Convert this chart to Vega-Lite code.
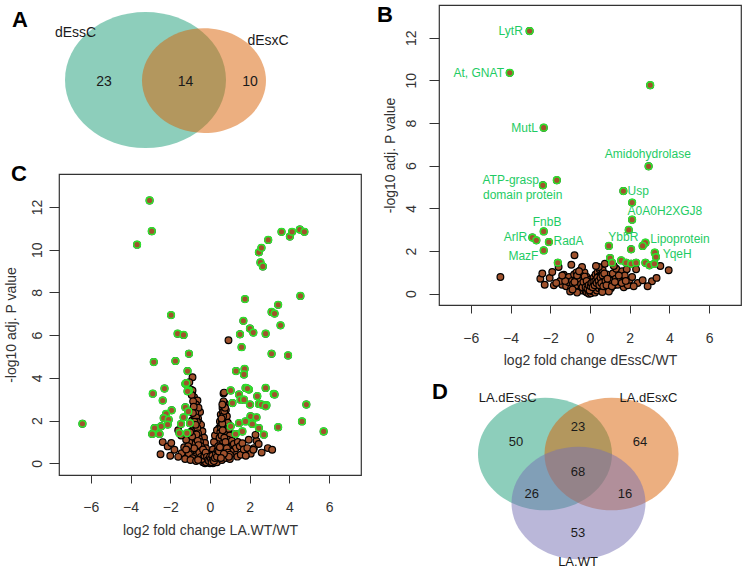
{
 "$schema": "https://vega.github.io/schema/vega-lite/v6.json",
 "background": "white",
 "padding": {"left": 3, "top": 3, "right": 0, "bottom": 0},
 "spacing": 14,
 "config": {"font": "Liberation Sans", "view": {"stroke": null}},
 "datasets": {
  "vennA": [{"set":"dEssC","x":2.883,"y":3.25},{"set":"dEsxC","x":4.833,"y":3.22}],
  "vennAtext": [{"label":"dEssC","x":0.55,"y":5.6},{"label":"dEsxC","x":6.967,"y":5.2},{"label":"23","x":1.5,"y":3.15},{"label":"14","x":4.217,"y":3.15},{"label":"10","x":6.367,"y":3.15}],
  "vennD": [{"set":"LA.dEssC","x":3.533,"y":6.216},{"set":"LA.dEsxC","x":5.75,"y":6.216},{"set":"LA.WT","x":4.65,"y":3.568}],
  "vennDtext": [{"label":"LA.dEssC","x":2.29,"y":9.24},{"label":"LA.dEsxC","x":6.983,"y":9.24},{"label":"LA.WT","x":4.633,"y":0.4},{"label":"50","x":2.567,"y":6.86},{"label":"23","x":4.633,"y":7.68},{"label":"64","x":6.7,"y":6.86},{"label":"68","x":4.633,"y":5.22},{"label":"26","x":3.09,"y":4.05},{"label":"16","x":6.2,"y":4.05},{"label":"53","x":4.633,"y":1.92}],
  "labB": [{"gene":"LytR","fc":-3.99,"p":12.31},{"gene":"At, GNAT","fc":-5.6,"p":10.35},{"gene":"MutL","fc":-3.29,"p":7.78},{"gene":"Amidohydrolase","fc":2.91,"p":6.56},{"gene":"ATP-grasp","fc":-3.99,"p":5.33},{"gene":"domain protein","fc":-3.39,"p":4.63},{"gene":"Usp","fc":2.43,"p":4.81},{"gene":"A0A0H2XGJ8","fc":3.77,"p":3.86},{"gene":"FnbB","fc":-2.16,"p":3.36},{"gene":"ArlR","fc":-3.75,"p":2.66},{"gene":"RadA","fc":-1.08,"p":2.46},{"gene":"MazF","fc":-3.35,"p":1.77},{"gene":"YbbR","fc":1.68,"p":2.66},{"gene":"Lipoprotein","fc":4.53,"p":2.58},{"gene":"YqeH","fc":4.39,"p":1.88}],
  "volB": [
   {"fc":-4.51,"p":0.78,"sig":0},{"fc":-2.5,"p":0.7,"sig":0},{"fc":-2.28,"p":0.42,"sig":0},{"fc":-2.03,"p":0.74,"sig":0},{"fc":-1.82,"p":0.39,"sig":0},{"fc":-1.9,"p":1.02,"sig":0},{"fc":-1.58,"p":1.25,"sig":0},{"fc":-1.4,"p":0.42,"sig":0},{"fc":-1.32,"p":0.89,"sig":0},{"fc":-1.06,"p":0.78,"sig":0},{"fc":-0.94,"p":1.36,"sig":0},{"fc":-0.78,"p":1.8,"sig":0},{"fc":-1.2,"p":0.35,"sig":0},{"fc":-1.1,"p":0.55,"sig":0},{"fc":-0.95,"p":0.25,"sig":0},{"fc":-0.9,"p":0.6,"sig":0},{"fc":-0.85,"p":0.45,"sig":0},{"fc":-0.8,"p":0.9,"sig":0},{"fc":-0.75,"p":0.3,"sig":0},{"fc":-0.7,"p":0.65,"sig":0},{"fc":-0.68,"p":1.0,"sig":0},{"fc":-0.62,"p":0.2,"sig":0},{"fc":-0.6,"p":0.5,"sig":0},{"fc":-0.55,"p":0.8,"sig":0},{"fc":-0.5,"p":0.35,"sig":0},{"fc":-0.48,"p":1.1,"sig":0},{"fc":-0.45,"p":0.6,"sig":0},{"fc":-0.4,"p":0.15,"sig":0},{"fc":-0.4,"p":0.9,"sig":0},{"fc":-0.35,"p":0.45,"sig":0},{"fc":-0.32,"p":0.7,"sig":0},{"fc":-0.3,"p":0.25,"sig":0},{"fc":-0.28,"p":1.0,"sig":0},{"fc":-0.25,"p":0.55,"sig":0},{"fc":-0.22,"p":0.1,"sig":0},{"fc":-0.2,"p":0.35,"sig":0},{"fc":-0.18,"p":0.8,"sig":0},{"fc":-0.15,"p":0.05,"sig":0},{"fc":-0.12,"p":0.5,"sig":0},{"fc":-0.1,"p":0.2,"sig":0},{"fc":-0.08,"p":0.65,"sig":0},{"fc":-0.05,"p":0.0,"sig":0},{"fc":-0.03,"p":0.3,"sig":0},{"fc":0.0,"p":0.1,"sig":0},{"fc":0.02,"p":0.45,"sig":0},{"fc":0.05,"p":0.02,"sig":0},{"fc":0.08,"p":0.25,"sig":0},{"fc":0.1,"p":0.6,"sig":0},{"fc":0.12,"p":0.12,"sig":0},{"fc":0.15,"p":0.4,"sig":0},{"fc":0.18,"p":0.75,"sig":0},{"fc":0.2,"p":0.2,"sig":0},{"fc":0.22,"p":0.55,"sig":0},{"fc":0.25,"p":0.05,"sig":0},{"fc":0.28,"p":0.9,"sig":0},{"fc":0.3,"p":0.35,"sig":0},{"fc":0.32,"p":0.65,"sig":0},{"fc":0.35,"p":0.15,"sig":0},{"fc":0.38,"p":1.0,"sig":0},{"fc":0.4,"p":0.5,"sig":0},{"fc":0.42,"p":0.8,"sig":0},{"fc":0.45,"p":0.25,"sig":0},{"fc":0.48,"p":1.15,"sig":0},{"fc":0.5,"p":0.6,"sig":0},{"fc":0.55,"p":0.4,"sig":0},{"fc":0.58,"p":0.9,"sig":0},{"fc":0.6,"p":0.2,"sig":0},{"fc":0.64,"p":1.1,"sig":0},{"fc":0.65,"p":0.55,"sig":0},{"fc":0.7,"p":0.75,"sig":0},{"fc":0.73,"p":0.7,"sig":0},{"fc":0.75,"p":0.3,"sig":0},{"fc":0.8,"p":0.5,"sig":0},{"fc":0.85,"p":0.9,"sig":0},{"fc":0.9,"p":0.35,"sig":0},{"fc":0.98,"p":0.47,"sig":0},{"fc":1.0,"p":0.7,"sig":0},{"fc":1.05,"p":0.25,"sig":0},{"fc":1.1,"p":0.6,"sig":0},{"fc":1.15,"p":0.95,"sig":0},{"fc":1.2,"p":0.4,"sig":0},{"fc":1.3,"p":0.7,"sig":0},{"fc":1.32,"p":1.17,"sig":0},{"fc":1.4,"p":0.42,"sig":0},{"fc":1.5,"p":0.6,"sig":0},{"fc":1.62,"p":1.05,"sig":0},{"fc":1.7,"p":0.3,"sig":0},{"fc":1.85,"p":1.14,"sig":0},{"fc":1.9,"p":0.39,"sig":0},{"fc":2.0,"p":0.65,"sig":0},{"fc":2.12,"p":0.78,"sig":0},{"fc":2.32,"p":1.14,"sig":0},{"fc":2.4,"p":0.5,"sig":0},{"fc":2.65,"p":0.63,"sig":0},{"fc":3.12,"p":0.58,"sig":0},{"fc":3.35,"p":0.74,"sig":0},{"fc":3.54,"p":1.3,"sig":0},{"fc":3.96,"p":1.1,"sig":0},{"fc":0.44,"p":1.25,"sig":0},{"fc":-1.5,"p":0.6,"sig":0},{"fc":-1.7,"p":0.5,"sig":0},{"fc":-2.4,"p":0.95,"sig":0},{"fc":1.75,"p":0.85,"sig":0},{"fc":2.2,"p":0.35,"sig":0},{"fc":-0.65,"p":0.05,"sig":0},{"fc":0.62,"p":0.08,"sig":0},{"fc":-1.0,"p":0.1,"sig":0},{"fc":0.95,"p":0.1,"sig":0},{"fc":2.9,"p":0.35,"sig":0},{"fc":-0.4,"p":1.25,"sig":0},{"fc":0.3,"p":1.3,"sig":0},{"fc":0.75,"p":1.4,"sig":0},{"fc":1.2,"p":1.3,"sig":0},
   {"fc":-0.7,"p":0.4,"sig":0},{"fc":-0.6,"p":0.7,"sig":0},{"fc":-0.5,"p":0.9,"sig":0},{"fc":-0.45,"p":0.45,"sig":0},{"fc":-0.38,"p":0.3,"sig":0},{"fc":-0.33,"p":0.55,"sig":0},{"fc":-0.27,"p":0.8,"sig":0},{"fc":-0.22,"p":0.3,"sig":0},{"fc":-0.17,"p":0.6,"sig":0},{"fc":-0.13,"p":0.25,"sig":0},{"fc":-0.07,"p":0.4,"sig":0},{"fc":-0.02,"p":0.15,"sig":0},{"fc":0.03,"p":0.35,"sig":0},{"fc":0.07,"p":0.5,"sig":0},{"fc":0.13,"p":0.3,"sig":0},{"fc":0.17,"p":0.55,"sig":0},{"fc":0.23,"p":0.4,"sig":0},{"fc":0.27,"p":0.6,"sig":0},{"fc":0.33,"p":0.5,"sig":0},{"fc":0.37,"p":0.75,"sig":0},{"fc":0.43,"p":0.6,"sig":0},{"fc":0.47,"p":0.4,"sig":0},{"fc":0.53,"p":0.75,"sig":0},{"fc":0.57,"p":0.5,"sig":0},{"fc":0.63,"p":0.85,"sig":0},{"fc":0.67,"p":0.35,"sig":0},{"fc":0.72,"p":0.95,"sig":0},{"fc":0.78,"p":0.6,"sig":0},{"fc":0.83,"p":0.4,"sig":0},{"fc":0.88,"p":0.7,"sig":0},{"fc":-0.88,"p":0.2,"sig":0},{"fc":-0.78,"p":0.55,"sig":0},{"fc":-0.65,"p":0.85,"sig":0},{"fc":-0.55,"p":1.05,"sig":0},{"fc":1.1,"p":0.35,"sig":0},{"fc":1.25,"p":0.55,"sig":0},{"fc":1.45,"p":0.85,"sig":0},{"fc":1.6,"p":0.5,"sig":0},{"fc":1.8,"p":0.6,"sig":0},{"fc":-1.25,"p":0.6,"sig":0},{"fc":-1.4,"p":0.85,"sig":0},
   {"fc":-3.04,"p":12.31,"sig":1},{"fc":-4.04,"p":10.35,"sig":1},{"fc":3.03,"p":9.77,"sig":1},{"fc":-2.33,"p":7.78,"sig":1},{"fc":2.95,"p":5.97,"sig":1},{"fc":-2.37,"p":5.08,"sig":1},{"fc":-1.67,"p":5.32,"sig":1},{"fc":1.68,"p":4.81,"sig":1},{"fc":2.12,"p":4.27,"sig":1},{"fc":2.12,"p":3.47,"sig":1},{"fc":1.95,"p":2.99,"sig":1},{"fc":-2.33,"p":2.92,"sig":1},{"fc":-2.9,"p":2.63,"sig":1},{"fc":-2.7,"p":2.5,"sig":1},{"fc":-2.07,"p":2.42,"sig":1},{"fc":-2.33,"p":2.03,"sig":1},{"fc":0.95,"p":2.24,"sig":1},{"fc":2.07,"p":2.08,"sig":1},{"fc":2.79,"p":2.39,"sig":1},{"fc":2.65,"p":2.24,"sig":1},{"fc":3.26,"p":1.92,"sig":1},{"fc":3.32,"p":1.72,"sig":1},{"fc":1.01,"p":1.67,"sig":1},{"fc":1.11,"p":1.45,"sig":1},{"fc":1.57,"p":1.56,"sig":1},{"fc":1.82,"p":1.45,"sig":1},{"fc":2.07,"p":1.4,"sig":1},{"fc":2.32,"p":1.45,"sig":1},{"fc":2.79,"p":1.45,"sig":1},{"fc":2.99,"p":1.33,"sig":1},{"fc":3.24,"p":1.4,"sig":1},{"fc":-1.62,"p":1.45,"sig":1}
  ],
  "volC": [
   {"fc":-0.96,"p":3.45,"sig":0},{"fc":-0.9,"p":3.3,"sig":0},{"fc":-0.88,"p":4.03,"sig":0},{"fc":-1.04,"p":3.8,"sig":0},{"fc":-0.88,"p":3.41,"sig":0},{"fc":-0.8,"p":3.1,"sig":0},{"fc":-0.63,"p":2.94,"sig":0},{"fc":-0.71,"p":2.75,"sig":0},{"fc":-0.76,"p":2.43,"sig":0},{"fc":-0.7,"p":2.6,"sig":0},{"fc":-0.65,"p":2.3,"sig":0},{"fc":-0.6,"p":2.1,"sig":0},{"fc":-0.68,"p":2.0,"sig":0},{"fc":-0.55,"p":1.9,"sig":0},{"fc":-0.62,"p":1.75,"sig":0},{"fc":-0.5,"p":1.6,"sig":0},{"fc":-0.58,"p":1.45,"sig":0},{"fc":-0.45,"p":1.35,"sig":0},{"fc":-0.52,"p":1.2,"sig":0},{"fc":-0.4,"p":1.1,"sig":0},{"fc":-0.47,"p":0.95,"sig":0},{"fc":-0.35,"p":0.85,"sig":0},{"fc":-0.42,"p":0.7,"sig":0},{"fc":-0.3,"p":0.6,"sig":0},{"fc":-0.36,"p":0.45,"sig":0},{"fc":-0.25,"p":0.4,"sig":0},{"fc":-0.3,"p":0.25,"sig":0},{"fc":-0.2,"p":0.2,"sig":0},{"fc":-0.15,"p":0.1,"sig":0},{"fc":-0.1,"p":0.05,"sig":0},{"fc":-0.72,"p":1.55,"sig":0},{"fc":-0.8,"p":1.3,"sig":0},{"fc":-0.85,"p":1.05,"sig":0},{"fc":-0.95,"p":0.85,"sig":0},{"fc":-0.75,"p":0.9,"sig":0},{"fc":-0.62,"p":0.6,"sig":0},{"fc":-0.7,"p":0.4,"sig":0},{"fc":-0.55,"p":0.3,"sig":0},{"fc":-0.48,"p":0.15,"sig":0},{"fc":-0.88,"p":0.6,"sig":0},{"fc":-1.0,"p":0.55,"sig":0},{"fc":-1.15,"p":0.45,"sig":0},{"fc":-0.83,"p":1.7,"sig":0},{"fc":-0.9,"p":2.0,"sig":0},{"fc":-0.78,"p":2.2,"sig":0},{"fc":-0.5,"p":2.4,"sig":0},{"fc":-0.58,"p":2.6,"sig":0},{"fc":-0.45,"p":1.8,"sig":0},{"fc":-0.38,"p":1.5,"sig":0},{"fc":-0.3,"p":1.2,"sig":0},{"fc":-0.25,"p":0.95,"sig":0},{"fc":-0.2,"p":0.7,"sig":0},{"fc":-0.12,"p":0.45,"sig":0},{"fc":-0.05,"p":0.25,"sig":0},{"fc":-0.65,"p":1.2,"sig":0},{"fc":-0.98,"p":1.2,"sig":0},{"fc":-1.05,"p":1.0,"sig":0},{"fc":-0.9,"p":1.5,"sig":0},
   {"fc":0.68,"p":3.27,"sig":0},{"fc":0.71,"p":3.31,"sig":0},{"fc":0.71,"p":2.62,"sig":0},{"fc":0.63,"p":2.59,"sig":0},{"fc":0.54,"p":2.28,"sig":0},{"fc":0.5,"p":1.96,"sig":0},{"fc":0.46,"p":1.65,"sig":0},{"fc":0.6,"p":2.0,"sig":0},{"fc":0.65,"p":2.4,"sig":0},{"fc":0.75,"p":2.8,"sig":0},{"fc":0.8,"p":2.5,"sig":0},{"fc":0.7,"p":2.1,"sig":0},{"fc":0.42,"p":1.4,"sig":0},{"fc":0.38,"p":1.15,"sig":0},{"fc":0.55,"p":1.75,"sig":0},{"fc":0.6,"p":1.5,"sig":0},{"fc":0.7,"p":1.6,"sig":0},{"fc":0.78,"p":1.85,"sig":0},{"fc":0.85,"p":2.2,"sig":0},{"fc":0.9,"p":1.9,"sig":0},{"fc":0.33,"p":0.9,"sig":0},{"fc":0.28,"p":0.7,"sig":0},{"fc":0.22,"p":0.5,"sig":0},{"fc":0.18,"p":0.3,"sig":0},{"fc":0.1,"p":0.15,"sig":0},{"fc":0.05,"p":0.05,"sig":0},{"fc":0.0,"p":0.0,"sig":0},{"fc":0.45,"p":1.0,"sig":0},{"fc":0.55,"p":1.2,"sig":0},{"fc":0.65,"p":1.05,"sig":0},{"fc":0.75,"p":1.3,"sig":0},{"fc":0.85,"p":1.45,"sig":0},{"fc":0.95,"p":1.6,"sig":0},{"fc":1.0,"p":1.3,"sig":0},{"fc":0.9,"p":1.1,"sig":0},{"fc":0.8,"p":0.85,"sig":0},{"fc":0.7,"p":0.75,"sig":0},{"fc":0.6,"p":0.6,"sig":0},{"fc":0.5,"p":0.45,"sig":0},{"fc":0.4,"p":0.35,"sig":0},{"fc":0.3,"p":0.2,"sig":0},{"fc":0.95,"p":0.9,"sig":0},{"fc":1.05,"p":0.75,"sig":0},{"fc":1.1,"p":1.05,"sig":0},{"fc":1.15,"p":0.6,"sig":0},{"fc":1.2,"p":0.9,"sig":0},{"fc":1.25,"p":0.45,"sig":0},{"fc":1.3,"p":0.7,"sig":0},{"fc":1.38,"p":0.31,"sig":0},{"fc":1.04,"p":0.55,"sig":0},{"fc":1.4,"p":1.0,"sig":0},{"fc":1.5,"p":0.8,"sig":0},{"fc":1.55,"p":0.4,"sig":0},{"fc":1.63,"p":0.94,"sig":0},{"fc":1.7,"p":0.65,"sig":0},{"fc":1.88,"p":0.71,"sig":0},{"fc":1.95,"p":1.1,"sig":0},{"fc":2.05,"p":0.45,"sig":0},{"fc":2.21,"p":0.71,"sig":0},{"fc":2.34,"p":1.05,"sig":0},{"fc":2.29,"p":1.33,"sig":0},{"fc":2.45,"p":0.9,"sig":0},{"fc":2.6,"p":0.5,"sig":0},{"fc":2.91,"p":0.71,"sig":0},{"fc":3.13,"p":0.63,"sig":0},{"fc":2.18,"p":0.63,"sig":0},{"fc":1.8,"p":0.35,"sig":0},{"fc":0.93,"p":5.76,"sig":0},{"fc":0.2,"p":1.0,"sig":0},{"fc":0.15,"p":0.65,"sig":0},{"fc":0.25,"p":1.3,"sig":0},{"fc":0.35,"p":1.55,"sig":0},{"fc":0.1,"p":0.4,"sig":0},
   {"fc":-2.38,"p":0.99,"sig":0},{"fc":-2.13,"p":0.79,"sig":0},{"fc":-2.49,"p":0.42,"sig":0},{"fc":-1.79,"p":0.63,"sig":0},{"fc":-1.43,"p":0.47,"sig":0},{"fc":-1.06,"p":0.42,"sig":0},{"fc":-0.88,"p":0.24,"sig":0},{"fc":-1.6,"p":0.3,"sig":0},{"fc":-1.25,"p":0.2,"sig":0},{"fc":-2.0,"p":0.35,"sig":0},{"fc":-1.95,"p":0.95,"sig":0},{"fc":-1.3,"p":0.75,"sig":0},{"fc":-1.2,"p":1.1,"sig":0},{"fc":-1.45,"p":1.3,"sig":0},{"fc":-1.6,"p":1.55,"sig":0},{"fc":-0.98,"p":0.15,"sig":0},{"fc":-0.7,"p":0.1,"sig":0},{"fc":-0.35,"p":0.05,"sig":0},{"fc":-0.25,"p":0.0,"sig":0},{"fc":0.15,"p":0.0,"sig":0},{"fc":0.35,"p":0.05,"sig":0},{"fc":0.6,"p":0.15,"sig":0},{"fc":0.8,"p":0.25,"sig":0},{"fc":1.0,"p":0.2,"sig":0},
   {"fc":-0.92,"p":3.2,"sig":0},{"fc":-0.85,"p":2.9,"sig":0},{"fc":-0.82,"p":2.65,"sig":0},{"fc":-0.74,"p":2.35,"sig":0},{"fc":-0.7,"p":2.15,"sig":0},{"fc":-0.66,"p":1.95,"sig":0},{"fc":-0.64,"p":1.65,"sig":0},{"fc":-0.6,"p":1.4,"sig":0},{"fc":-0.56,"p":1.15,"sig":0},{"fc":-0.5,"p":1.0,"sig":0},{"fc":-0.46,"p":0.8,"sig":0},{"fc":-0.42,"p":0.55,"sig":0},{"fc":-0.38,"p":0.35,"sig":0},{"fc":-0.3,"p":0.15,"sig":0},{"fc":-0.2,"p":0.05,"sig":0},{"fc":-0.78,"p":1.95,"sig":0},{"fc":-0.86,"p":2.35,"sig":0},{"fc":-0.72,"p":1.8,"sig":0},{"fc":-0.68,"p":1.35,"sig":0},{"fc":-0.62,"p":1.05,"sig":0},{"fc":-0.58,"p":0.85,"sig":0},{"fc":-0.54,"p":0.5,"sig":0},{"fc":-0.45,"p":0.3,"sig":0},{"fc":-0.4,"p":0.2,"sig":0},{"fc":-0.35,"p":0.65,"sig":0},{"fc":-0.28,"p":0.35,"sig":0},{"fc":-0.22,"p":0.5,"sig":0},{"fc":-0.15,"p":0.3,"sig":0},{"fc":-0.1,"p":0.15,"sig":0},{"fc":-0.05,"p":0.1,"sig":0},{"fc":0.0,"p":0.3,"sig":0},{"fc":0.05,"p":0.2,"sig":0},{"fc":0.08,"p":0.05,"sig":0},{"fc":0.12,"p":0.35,"sig":0},{"fc":0.16,"p":0.15,"sig":0},{"fc":0.2,"p":0.1,"sig":0},{"fc":0.25,"p":0.25,"sig":0},{"fc":0.3,"p":0.45,"sig":0},{"fc":0.35,"p":0.3,"sig":0},{"fc":0.38,"p":0.6,"sig":0},{"fc":0.42,"p":0.8,"sig":0},{"fc":0.45,"p":0.55,"sig":0},{"fc":0.5,"p":0.75,"sig":0},{"fc":0.48,"p":1.2,"sig":0},{"fc":0.52,"p":1.45,"sig":0},{"fc":0.58,"p":1.3,"sig":0},{"fc":0.56,"p":1.65,"sig":0},{"fc":0.62,"p":1.85,"sig":0},{"fc":0.66,"p":2.2,"sig":0},{"fc":0.72,"p":2.45,"sig":0},{"fc":0.76,"p":2.6,"sig":0},{"fc":0.68,"p":2.9,"sig":0},{"fc":0.62,"p":2.75,"sig":0},{"fc":0.58,"p":2.1,"sig":0},{"fc":0.64,"p":1.55,"sig":0},{"fc":0.72,"p":1.2,"sig":0},{"fc":0.78,"p":1.0,"sig":0},{"fc":0.85,"p":0.7,"sig":0},{"fc":0.9,"p":0.5,"sig":0},{"fc":1.0,"p":0.4,"sig":0},{"fc":0.95,"p":0.3,"sig":0},{"fc":0.7,"p":0.45,"sig":0},{"fc":0.55,"p":0.25,"sig":0},{"fc":-0.6,"p":0.15,"sig":0},{"fc":-0.8,"p":0.7,"sig":0},{"fc":-0.9,"p":1.25,"sig":0},{"fc":-1.0,"p":1.45,"sig":0},{"fc":-1.1,"p":0.8,"sig":0},{"fc":-1.2,"p":0.65,"sig":0},
   {"fc":-3.04,"p":12.31,"sig":1},{"fc":-2.93,"p":10.87,"sig":1},{"fc":-3.67,"p":10.24,"sig":1},{"fc":-1.96,"p":6.94,"sig":1},{"fc":-1.63,"p":6.07,"sig":1},{"fc":-1.33,"p":6.01,"sig":1},{"fc":-1.06,"p":5.13,"sig":1},{"fc":-2.83,"p":4.74,"sig":1},{"fc":-1.74,"p":4.79,"sig":1},{"fc":-1.13,"p":4.32,"sig":1},{"fc":-1.24,"p":3.72,"sig":1},{"fc":-1.06,"p":3.41,"sig":1},{"fc":-2.88,"p":3.26,"sig":1},{"fc":-2.29,"p":3.5,"sig":1},{"fc":-2.38,"p":2.94,"sig":1},{"fc":-6.42,"p":1.85,"sig":1},
   {"fc":-1.93,"p":2.48,"sig":1},{"fc":-2.21,"p":2.31,"sig":1},{"fc":-2.33,"p":2.12,"sig":1},{"fc":-2.08,"p":2.04,"sig":1},{"fc":-2.46,"p":1.73,"sig":1},{"fc":-2.79,"p":1.65,"sig":1},{"fc":-2.91,"p":1.37,"sig":1},{"fc":-2.54,"p":1.37,"sig":1},{"fc":-2.13,"p":1.81,"sig":1},{"fc":-1.54,"p":1.41,"sig":1},{"fc":-1.46,"p":1.84,"sig":1},{"fc":-1.33,"p":2.15,"sig":1},{"fc":-1.24,"p":2.62,"sig":1},{"fc":-1.09,"p":2.43,"sig":1},{"fc":-1.01,"p":1.88,"sig":1},{"fc":-1.19,"p":3.76,"sig":1},{"fc":-1.13,"p":3.37,"sig":1},{"fc":-1.16,"p":1.41,"sig":1},
   {"fc":2.46,"p":9.88,"sig":1},{"fc":2.59,"p":10.09,"sig":1},{"fc":2.93,"p":10.46,"sig":1},{"fc":2.54,"p":9.41,"sig":1},{"fc":2.66,"p":9.22,"sig":1},{"fc":3.6,"p":10.84,"sig":1},{"fc":4.02,"p":10.62,"sig":1},{"fc":4.13,"p":10.84,"sig":1},{"fc":4.52,"p":10.95,"sig":1},{"fc":4.75,"p":10.84,"sig":1},{"fc":4.55,"p":7.84,"sig":1},{"fc":1.76,"p":7.69,"sig":1},{"fc":3.43,"p":7.42,"sig":1},{"fc":3.1,"p":7.09,"sig":1},{"fc":3.25,"p":7.01,"sig":1},{"fc":1.68,"p":6.67,"sig":1},{"fc":3.55,"p":6.46,"sig":1},{"fc":2.01,"p":6.31,"sig":1},{"fc":2.18,"p":6.12,"sig":1},{"fc":1.51,"p":6.04,"sig":1},{"fc":2.8,"p":6.07,"sig":1},{"fc":1.59,"p":5.44,"sig":1},{"fc":3.1,"p":5.13,"sig":1},{"fc":3.93,"p":5.05,"sig":1},{"fc":1.74,"p":4.42,"sig":1},{"fc":1.31,"p":4.32,"sig":1},{"fc":1.71,"p":4.16,"sig":1},{"fc":1.79,"p":3.53,"sig":1},{"fc":1.96,"p":3.45,"sig":1},{"fc":2.8,"p":3.53,"sig":1},{"fc":3.21,"p":3.25,"sig":1},{"fc":4.85,"p":2.75,"sig":1},
   {"fc":1.04,"p":3.41,"sig":1},{"fc":1.46,"p":3.22,"sig":1},{"fc":1.88,"p":3.5,"sig":1},{"fc":2.38,"p":3.14,"sig":1},{"fc":3.25,"p":3.22,"sig":1},{"fc":1.13,"p":2.82,"sig":1},{"fc":1.54,"p":2.98,"sig":1},{"fc":2.01,"p":2.75,"sig":1},{"fc":2.46,"p":2.78,"sig":1},{"fc":2.84,"p":2.72,"sig":1},{"fc":2.04,"p":2.2,"sig":1},{"fc":2.34,"p":2.15,"sig":1},{"fc":1.46,"p":1.88,"sig":1},{"fc":1.79,"p":1.96,"sig":1},{"fc":2.13,"p":1.84,"sig":1},{"fc":2.46,"p":1.65,"sig":1},{"fc":1.04,"p":1.73,"sig":1},{"fc":1.29,"p":1.37,"sig":1},{"fc":1.63,"p":1.49,"sig":1},{"fc":2.71,"p":1.34,"sig":1},{"fc":3.43,"p":1.69,"sig":1},{"fc":4.63,"p":1.96,"sig":1},{"fc":5.72,"p":1.49,"sig":1},{"fc":1.71,"p":2.98,"sig":1},{"fc":2.59,"p":2.75,"sig":1},{"fc":2.8,"p":2.67,"sig":1}
  ]
 },
 "hconcat": [
  {
   "spacing": 13,
   "vconcat": [
    {
     "width": 300, "height": 140,
     "title": {"text": "A", "anchor": "start", "frame": "group", "dx": -47, "offset": -27, "fontSize": 22, "fontWeight": "bold", "color": "#000000", "font": "Liberation Sans"},
     "encoding": {
      "x": {"field": "x", "type": "quantitative", "scale": {"domain": [0, 10], "nice": false, "zero": false}, "axis": null},
      "y": {"field": "y", "type": "quantitative", "scale": {"domain": [0, 7], "nice": false, "zero": false}, "axis": null}
     },
     "layer": [
      {"data": {"name": "vennA"}, "transform": [{"filter": "datum.set == 'dEssC'"}], "mark": {"type": "point", "shape": "M -1 0 A 1 0.845 0 1 1 1 0 A 1 0.845 0 1 1 -1 0 Z", "filled": true, "fill": "#1b9e77", "opacity": 1, "fillOpacity": 0.5, "strokeWidth": 0, "size": 25921}},
      {"data": {"name": "vennA"}, "transform": [{"filter": "datum.set == 'dEsxC'"}], "mark": {"type": "point", "shape": "M -1 0 A 1 0.845 0 1 1 1 0 A 1 0.845 0 1 1 -1 0 Z", "filled": true, "fill": "#d95f02", "opacity": 1, "fillOpacity": 0.5, "strokeWidth": 0, "size": 15376}},
      {"data": {"name": "vennAtext"}, "mark": {"type": "text", "fontSize": 14, "color": "#1a1a1a", "font": "Liberation Sans"}, "encoding": {"text": {"field": "label"}}}
     ]
    },
    {
     "width": 302, "height": 301,
     "view": {"stroke": "#333333", "strokeWidth": 1.2},
     "title": {"text": "C", "anchor": "start", "frame": "group", "dx": -48, "offset": -12, "fontSize": 22, "fontWeight": "bold", "color": "#000000", "font": "Liberation Sans"},
     "data": {"name": "volC"},
     "encoding": {
      "x": {"field": "fc", "type": "quantitative", "scale": {"domain": [-7.6, 7.6], "nice": false, "zero": false},
            "axis": {"values": [-6, -4, -2, 0, 2, 4, 6], "title": "log2 fold change LA.WT/WT", "grid": false, "domain": false, "tickSize": 8, "tickColor": "#333333", "labelPadding": 17, "labelFontSize": 14, "labelColor": "#333333", "labelFlush": false, "titleFontSize": 14, "titleFontWeight": "normal", "titleColor": "#333333", "titlePadding": 9}},
      "y": {"field": "p", "type": "quantitative", "scale": {"domain": [-0.55, 13.55], "nice": false, "zero": false},
            "axis": {"values": [0, 2, 4, 6, 8, 10, 12], "title": "-log10 adj. P value", "grid": false, "domain": false, "tickSize": 10, "tickColor": "#333333", "labelAngle": 270, "labelPadding": 5, "labelFontSize": 14, "labelColor": "#333333", "labelFlush": false, "titleFontSize": 14, "titleFontWeight": "normal", "titleColor": "#333333", "titlePadding": 12}}
     },
     "layer": [
      {"mark": {"type": "circle", "fill": "#a0522d", "stroke": "#000000", "strokeWidth": 1.2, "size": 45, "opacity": 1}},
      {"transform": [{"filter": "datum.sig == 1"}], "mark": {"type": "circle", "fill": "#a0522d", "stroke": "#2de32d", "strokeWidth": 1.5, "size": 45, "opacity": 1}}
     ]
    }
   ]
  },
  {
   "spacing": 13,
   "vconcat": [
    {
     "width": 302, "height": 300,
     "view": {"stroke": "#333333", "strokeWidth": 1.2},
     "title": {"text": "B", "anchor": "start", "frame": "group", "dx": -62, "offset": -22, "fontSize": 22, "fontWeight": "bold", "color": "#000000", "font": "Liberation Sans"},
     "data": {"name": "volB"},
     "encoding": {
      "x": {"field": "fc", "type": "quantitative", "scale": {"domain": [-7.6, 7.6], "nice": false, "zero": false},
            "axis": {"values": [-6, -4, -2, 0, 2, 4, 6], "title": "log2 fold change dEssC/WT", "grid": false, "domain": false, "tickSize": 8, "tickColor": "#333333", "labelPadding": 18, "labelFontSize": 14, "labelColor": "#333333", "labelFlush": false, "titleFontSize": 14, "titleFontWeight": "normal", "titleColor": "#333333", "titlePadding": 8}},
      "y": {"field": "p", "type": "quantitative", "scale": {"domain": [-0.53, 13.53], "nice": false, "zero": false},
            "axis": {"values": [0, 2, 4, 6, 8, 10, 12], "title": "-log10 adj. P value", "grid": false, "domain": false, "tickSize": 10, "tickColor": "#333333", "labelAngle": 270, "labelPadding": 11, "labelFontSize": 14, "labelColor": "#333333", "labelFlush": false, "titleFontSize": 14, "titleFontWeight": "normal", "titleColor": "#333333", "titlePadding": 7}}
     },
     "layer": [
      {"mark": {"type": "circle", "fill": "#a0522d", "stroke": "#000000", "strokeWidth": 1.2, "size": 45, "opacity": 1}},
      {"transform": [{"filter": "datum.sig == 1"}], "mark": {"type": "circle", "fill": "#a0522d", "stroke": "#2de32d", "strokeWidth": 1.5, "size": 45, "opacity": 1}},
      {"data": {"name": "labB"}, "mark": {"type": "text", "color": "#1ecb63", "fontSize": 12, "font": "Liberation Sans"}, "encoding": {"text": {"field": "gene"}}}
     ]
    },
    {
     "width": 300, "height": 185,
     "title": {"text": "D", "anchor": "start", "frame": "group", "dx": -7, "offset": -20, "fontSize": 22, "fontWeight": "bold", "color": "#000000", "font": "Liberation Sans"},
     "encoding": {
      "x": {"field": "x", "type": "quantitative", "scale": {"domain": [0, 10], "nice": false, "zero": false}, "axis": null},
      "y": {"field": "y", "type": "quantitative", "scale": {"domain": [0, 10], "nice": false, "zero": false}, "axis": null}
     },
     "layer": [
      {"data": {"name": "vennD"}, "transform": [{"filter": "datum.set == 'LA.dEssC'"}], "mark": {"type": "point", "shape": "M -1 0 A 1 0.84 0 1 1 1 0 A 1 0.84 0 1 1 -1 0 Z", "filled": true, "fill": "#1b9e77", "opacity": 1, "fillOpacity": 0.5, "strokeWidth": 0, "size": 17956}},
      {"data": {"name": "vennD"}, "transform": [{"filter": "datum.set == 'LA.dEsxC'"}], "mark": {"type": "point", "shape": "M -1 0 A 1 0.84 0 1 1 1 0 A 1 0.84 0 1 1 -1 0 Z", "filled": true, "fill": "#d95f02", "opacity": 1, "fillOpacity": 0.5, "strokeWidth": 0, "size": 17956}},
      {"data": {"name": "vennD"}, "transform": [{"filter": "datum.set == 'LA.WT'"}], "mark": {"type": "point", "shape": "M -1 0 A 1 0.84 0 1 1 1 0 A 1 0.84 0 1 1 -1 0 Z", "filled": true, "fill": "#7570b3", "opacity": 1, "fillOpacity": 0.5, "strokeWidth": 0, "size": 17956}},
      {"data": {"name": "vennDtext"}, "mark": {"type": "text", "fontSize": 13, "color": "#1a1a1a", "font": "Liberation Sans"}, "encoding": {"text": {"field": "label"}}}
     ]
    }
   ]
  }
 ]
}
